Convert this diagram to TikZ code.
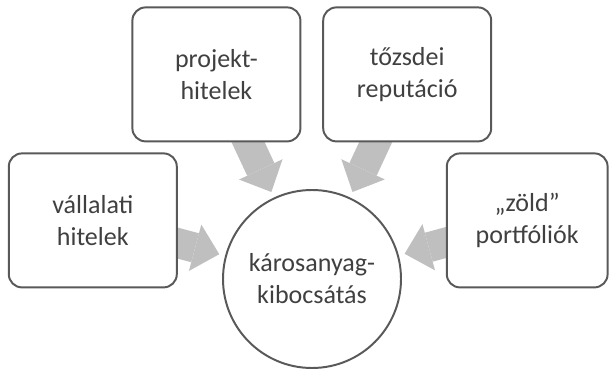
\documentclass[tikz,border=0pt]{standalone}
\usepackage{fontspec}
\setmainfont{Carlito}
\usepackage{xcolor}
\usepackage{tikz}
\usetikzlibrary{arrows.meta,positioning,shapes,backgrounds}

\definecolor{boxline}{HTML}{595959}
\definecolor{boxtext}{HTML}{404040}
\definecolor{arrowgray}{HTML}{BFBFBF}

\begin{document}
\begin{tikzpicture}[
    box/.style={rectangle, rounded corners=0.33cm, draw=boxline, line width=1.4pt, fill=white, minimum width=4.2cm, minimum height=3.35cm, align=center, text=boxtext, font=\fontsize{18.5}{22.8}\selectfont},
    hub/.style={circle, draw=boxline, line width=1.4pt, fill=white, minimum size=4.45cm, inner sep=0pt, align=center, text=boxtext, font=\fontsize{18.5}{22.8}\selectfont},
    fatarrow/.style={-{Triangle[width=1.2cm, length=0.625cm, line width=0pt]}, line width=0.75cm, draw=arrowgray, shorten >=0.15cm}
]
\useasboundingbox (0,0) rectangle (15.225,-9.25);
\node[hub] (karos) at (7.8,-6.975) {károsanyag-\\kibocsátás};
\node[box] (proj) at (5.41,-1.86) {projekt-\\hitelek};\node[box] (tozsde) at (10.18,-1.86) {tőzsdei\\reputáció};
\node[box] (vall) at (2.32,-5.51) {vállalati\\hitelek};\node[box, minimum width=4.02cm] (zold) at (13.18,-5.51) {„zöld”\\portfóliók};
\begin{scope}[on background layer]
\draw[fatarrow] (vall.center) -- (karos);\draw[fatarrow] (proj.center) -- (karos);
\draw[fatarrow] (tozsde.center) -- (karos);\draw[fatarrow] (zold.center) -- (karos);
\end{scope}
\end{tikzpicture}
\end{document}
